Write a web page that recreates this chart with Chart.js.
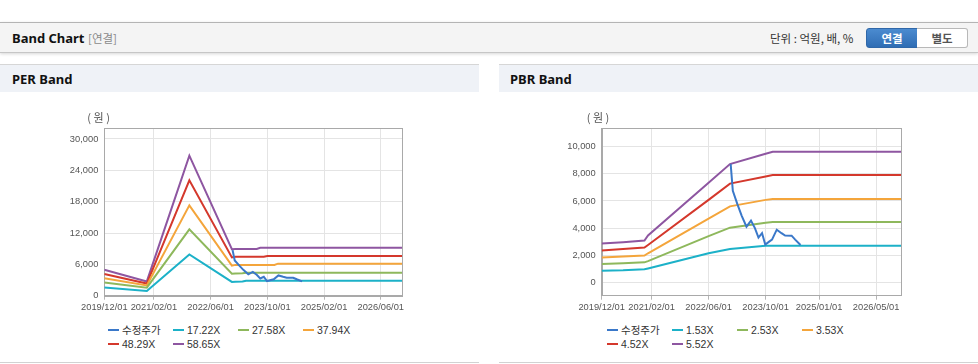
<!DOCTYPE html>
<html>
<head>
<meta charset="utf-8">
<script src="https://cdn.jsdelivr.net/npm/chart.js@4.4.1/dist/chart.umd.min.js"></script>
<style>
html,body{margin:0;padding:0;background:#fff;}
body{width:978px;height:364px;position:relative;overflow:hidden;font-family:"Noto Sans","Noto Sans CJK KR",sans-serif;}
.hdr{position:absolute;left:0;top:22px;width:978px;height:29px;background:#f4f4f4;border-top:1px solid #b4b4b4;border-bottom:1px solid #c6c6c6;box-shadow:0 1px 3px rgba(0,0,0,0.16);}
.hdr .t{position:absolute;left:12px;top:0;line-height:30px;font-weight:bold;font-size:13px;color:#111;}
.hdr .s{position:absolute;left:88px;top:0;line-height:30px;font-size:11.5px;color:#8a8a8a;font-family:"Noto Sans CJK KR",sans-serif;}
.hdr .unit{position:absolute;left:770px;top:0;line-height:30px;font-size:11.5px;color:#333;font-family:"Noto Sans CJK KR",sans-serif;}
.btn{position:absolute;top:5px;height:18px;width:50px;line-height:18px;text-align:center;font-size:11.5px;font-weight:bold;font-family:"Noto Sans CJK KR",sans-serif;}
.b1{left:866px;background:linear-gradient(#4b8bd0,#2f6db4);color:#fff;border:1px solid #2f67a8;border-radius:3px 0 0 3px;}
.b2{left:917px;background:#fff;color:#555;border:1px solid #b8b8b8;border-left:none;border-radius:0 3px 3px 0;}
.pbar{position:absolute;top:64px;height:27px;background:#eff2f7;border-top:1px solid #d6d6d6;}
.ptitle{position:absolute;top:66px;line-height:27px;font-weight:bold;font-size:13px;color:#111;}
.pbot{position:absolute;top:362px;height:1px;background:#d2d2d2;}
canvas{position:absolute;top:92px;}
.legend{position:absolute;top:324px;width:262px;font-family:"Liberation Sans","Noto Sans CJK KR",sans-serif;font-size:10.5px;color:#333;}
.legend .li{display:inline-block;width:65px;height:13.5px;line-height:13.5px;white-space:nowrap;}
.legend .li i{display:inline-block;width:11px;height:2px;vertical-align:middle;margin-right:3px;position:relative;top:-1px;}
</style>
</head>
<body>
<div class="hdr">
  <span class="t">Band Chart</span><span class="s">[연결]</span>
  <span class="unit">단위 : 억원, 배, %</span>
  <div class="btn b1">연결</div><div class="btn b2">별도</div>
</div>
<div class="pbar" style="left:0;width:479px;"></div>
<div class="ptitle" style="left:12px;">PER Band</div>
<div class="pbar" style="left:499px;width:479px;"></div>
<div class="ptitle" style="left:510px;">PBR Band</div>
<canvas id="per" width="479" height="230" style="left:0;width:479px;height:230px;"></canvas>
<canvas id="pbr" width="479" height="230" style="left:499px;width:479px;height:230px;"></canvas>
<div class="legend" id="perLegend" style="left:108px;"></div>
<div class="legend" id="pbrLegend" style="left:607px;"></div>
<div class="pbot" style="left:0;width:479px;"></div>
<div class="pbot" style="left:499px;width:479px;"></div>
<script>
// ---------- DATA ----------
const seriesLabels = ['수정주가'];
const perMultiples = ['17.22X', '27.58X', '37.94X', '48.29X', '58.65X'];
const pbrMultiples = ['1.53X', '2.53X', '3.53X', '4.52X', '5.52X'];

const perXTicks = ['2019/12/01', '2021/02/01', '2022/06/01', '2023/10/01', '2025/02/01', '2026/06/01'];
const pbrXTicks = ['2019/12/01', '2021/02/01', '2022/06/01', '2023/10/01', '2025/01/01', '2026/05/01'];
const perYTicks = [0, 6000, 12000, 18000, 24000, 30000];
const pbrYTicks = [0, 2000, 4000, 6000, 8000, 10000];
const xStart = '2019/12/01';
const xEnd = '2026/12/01';

// adjusted stock price (shared by both charts)
const priceDates = ['2022/12/07','2022/12/25','2023/02/04','2023/03/10','2023/04/20','2023/05/28','2023/07/01','2023/08/01','2023/09/01','2023/09/28','2023/11/01','2023/11/25','2024/01/05','2024/02/15','2024/03/15','2024/05/10','2024/06/10','2024/07/25'];
const priceValues = [8720, 6750, 5750, 4900, 4100, 4550, 4000, 3300, 3630, 2780, 3000, 3150, 3880, 3620, 3450, 3440, 3150, 2750];

// PER bands
const perBandDates = ['2019/12','2020/12','2021/12','2022/12','2023/01','2023/03','2023/04','2023/07','2023/08','2023/09','2023/10','2023/12','2024/01','2026/12'];
const per1722 = [1560,  920,  7900, 2640, 2680, 2700, 2870, 2870, 2870, 2870, 2870, 2870, 2870, 2870];
const per2758 = [2520, 1540, 12700, 4200, 4240, 4300, 4400, 4400, 4400, 4400, 4400, 4400, 4400, 4400];
const per3794 = [3350, 1950, 17300, 5760, 5900, 5900, 5900, 5900, 5900, 5900, 5900, 5900, 6130, 6130];
const per4829 = [4150, 2330, 22080, 7330, 7460, 7460, 7460, 7460, 7460, 7460, 7600, 7600, 7600, 7600];
const per5865 = [4950, 2730, 26800, 8900, 8950, 8950, 8950, 8950, 9190, 9190, 9190, 9190, 9190, 9190];

// PBR bands
const pbrBandDates = ['2019/12','2020/06','2020/12','2021/01','2022/06','2022/12','2023/10','2023/12','2026/12'];
const pbr153 = [ 850,  880,  960, 1020, 2140, 2460, 2700, 2700, 2700];
const pbr253 = [1350, 1410, 1470, 1560, 3400, 4030, 4400, 4445, 4445];
const pbr353 = [1830, 1900, 1970, 2140, 4700, 5600, 6080, 6140, 6140];
const pbr452 = [2340, 2450, 2560, 2750, 6080, 7280, 7800, 7910, 7910];
const pbr552 = [2870, 2960, 3080, 3450, 7345, 8720, 9480, 9630, 9630];

const colors = ['#3a78c9', '#1cb1c8', '#8eb85c', '#f4a53b', '#d4382c', '#8e56a1'];

// ---------- HELPERS ----------
function toMonth(s) {
  const p = s.split('/').map(Number);
  const d = p[2] || 1;
  return (p[0] - 2019) * 12 + (p[1] - 12) + (d - 1) / 30;
}
function pts(dates, vals) { return dates.map((d, i) => ({x: toMonth(d), y: vals[i]})); }

const framePlugin = {
  id: 'frame',
  beforeDatasetsDraw(chart) {
    const {ctx, chartArea: a} = chart;
    ctx.save();
    ctx.strokeStyle = '#a9a9a9'; ctx.lineWidth = 1;
    ctx.strokeRect(Math.round(a.left) + 0.5, Math.round(a.top) + 0.5, Math.round(a.right - a.left), Math.round(a.bottom - a.top));
    ctx.restore();
  },
  afterDraw(chart, args, opts) {
    const {ctx, chartArea: a} = chart;
    ctx.save();
    ctx.fillStyle = '#555';
    ctx.font = '11px "Noto Sans CJK KR"';
    ctx.textAlign = 'left'; ctx.textBaseline = 'middle';
    if ('letterSpacing' in ctx) ctx.letterSpacing = '2.5px';
    ctx.fillText(opts.unit, a.left + opts.dx, a.top - 10);
    ctx.restore();
  }
};

function makeChart(id, datasets, cfg) {
  const tickFont = {family: '"Liberation Sans", Arial, sans-serif', size: 9.3};
  return new Chart(document.getElementById(id), {
    type: 'line',
    data: {datasets},
    options: {
      responsive: false, animation: false, devicePixelRatio: 1,
      layout: {padding: {left: 0, right: cfg.right, top: cfg.top, bottom: 0}},
      elements: {point: {radius: 0}, line: {borderWidth: 2, tension: 0}},
      plugins: {legend: {display: false}, tooltip: {enabled: false},
        frame: {unit: '(원)', dx: cfg.unitDx}},
      scales: {
        x: {
          type: 'linear', min: toMonth(xStart), max: toMonth(xEnd),
          afterFit(s) { s.height = cfg.xh; },
          afterBuildTicks(s) { s.ticks = cfg.xTicks.map(t => ({value: toMonth(t)})); },
          ticks: {autoSkip: false, maxRotation: 0, padding: 2, color: '#555', font: tickFont,
            callback: (v) => { const t = cfg.xTicks.find(q => Math.abs(toMonth(q) - v) < 0.01); return t || ''; }},
          grid: {color: '#e4e4e4', tickColor: '#b5b5b5', tickLength: 4},
          border: {color: '#a9a9a9'}
        },
        y: {
          type: 'linear', min: cfg.ymin, max: cfg.ymax,
          afterFit(s) { s.width = cfg.yw; },
          afterBuildTicks(s) { s.ticks = cfg.yTicks.map(v => ({value: v})); },
          ticks: {padding: 6, color: '#555', font: tickFont,
            callback: (v) => v.toLocaleString('en-US')},
          grid: {color: '#e4e4e4', drawTicks: false},
          border: {color: '#a9a9a9'}
        }
      }
    },
    plugins: [framePlugin]
  });
}

function bandSets(labels, dates, arrays) {
  return labels.map((l, i) => ({label: l, data: pts(dates, arrays[i]), borderColor: colors[i + 1], backgroundColor: colors[i + 1]}));
}

const perChart = makeChart('per', [
  {label: seriesLabels[0], data: pts(priceDates, priceValues), borderColor: colors[0], backgroundColor: colors[0]},
  ...bandSets(perMultiples, perBandDates, [per1722, per2758, per3794, per4829, per5865])
], {right: 77, top: 36, xh: 26.3, yw: 104.3, ymin: 0, ymax: 32100, yTicks: perYTicks, xTicks: perXTicks, unitDx: -17});

const pbrChart = makeChart('pbr', [
  {label: seriesLabels[0], data: pts(priceDates, priceValues), borderColor: colors[0], backgroundColor: colors[0]},
  ...bandSets(pbrMultiples, pbrBandDates, [pbr153, pbr253, pbr353, pbr452, pbr552])
], {right: 77, top: 36.3, xh: 26.3, yw: 102.7, ymin: -990, ymax: 11360, yTicks: pbrYTicks, xTicks: pbrXTicks, unitDx: -15});

function buildLegend(elId, chart) {
  const el = document.getElementById(elId);
  chart.data.datasets.forEach(ds => {
    const item = document.createElement('span');
    item.className = 'li';
    const mk = document.createElement('i');
    mk.style.background = ds.borderColor;
    item.appendChild(mk);
    item.appendChild(document.createTextNode(ds.label));
    el.appendChild(item);
  });
}
buildLegend('perLegend', perChart);
buildLegend('pbrLegend', pbrChart);
</script>
</body>
</html>
